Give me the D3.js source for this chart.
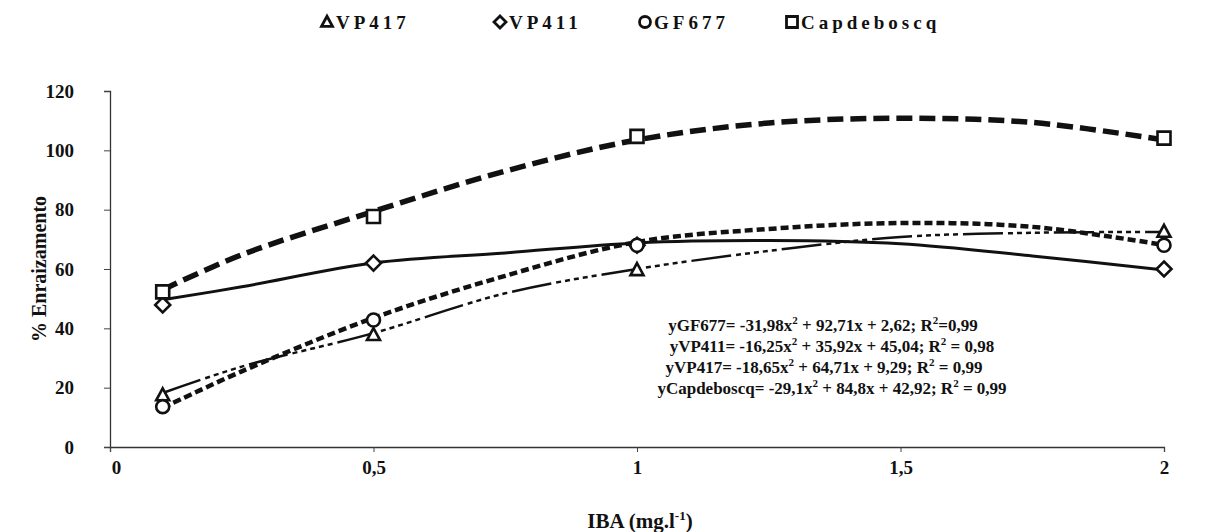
<!DOCTYPE html>
<html>
<head>
<meta charset="utf-8">
<script src="https://cdn.jsdelivr.net/npm/d3@7"></script>
<style>
  html, body { margin: 0; padding: 0; background: #fff; }
  svg { display: block; }
  text { font-family: "Liberation Serif", "Times New Roman", serif; font-weight: bold; fill: #111; }
</style>
</head>
<body>
<svg id="chart" width="1209" height="532"></svg>
<script>
// IBA doses (mg/l) where rooting was measured
const doses = [0.1, 0.5, 1, 2];

// Rooting percentage per rootstock
const vp417 = [17.5, 37.8, 59.7, 72.6];
const vp411 = [47.9, 62.0, 68.0, 60.0];
const gf677 = [13.6, 42.8, 68.0, 68.0];
const capdeboscq = [52.3, 77.7, 104.7, 104.1];

// Polynomial trend curves, sampled along the dose range
const trendDoses = [0.1, 0.25, 0.5, 0.75, 1, 1.25, 1.5, 1.75, 2];
const vp417Trend = [18.2, 27.1, 38.4, 51.8, 60.0, 66.1, 70.8, 72.2, 72.5];
const vp411Trend = [49.6, 54.0, 62.0, 65.4, 68.8, 69.6, 68.5, 64.4, 59.7];
const gf677Trend = [13.2, 25.5, 43.5, 57.7, 69.1, 73.5, 75.5, 74.2, 68.1];
const capTrend = [53.0, 64.8, 79.4, 93.0, 103.5, 109.2, 110.8, 109.4, 103.5];

// Axis ticks
const xTicks = [0, 0.5, 1, 1.5, 2];
const xTickLabels = ["0", "0,5", "1", "1,5", "2"];
const yTicks = [0, 20, 40, 60, 80, 100, 120];

// Regression equations (text pieces around the superscript 2s)
const equations = [
  { lhs: "yGF677= -31,98x", rhs: " + 92,71x + 2,62; R", r2: "=0,99", cx: 823 },
  { lhs: "yVP411= -16,25x", rhs: " + 35,92x + 45,04; R", r2: " = 0,98", cx: 832 },
  { lhs: "yVP417= -18,65x", rhs: " + 64,71x + 9,29; R", r2: " = 0,99", cx: 824 },
  { lhs: "yCapdeboscq= -29,1x", rhs: " + 84,8x + 42,92; R", r2: " = 0,99", cx: 832 }
];

const series = [
  { name: "VP417", values: vp417, trend: vp417Trend, shape: "triangle",
    dash: "40,5,5,4,5,4,5,4,5,4,5,5", width: 2.5 },
  { name: "VP411", values: vp411, trend: vp411Trend, shape: "diamond",
    dash: null, width: 3 },
  { name: "GF677", values: gf677, trend: gf677Trend, shape: "circle",
    dash: "8,4", width: 4.5 },
  { name: "Capdeboscq", values: capdeboscq, trend: capTrend, shape: "square",
    dash: "16,7", width: 5.5 }
];

const svg = d3.select("#chart");
const x = d3.scaleLinear().domain([0, 2]).range([110, 1164]);
const y = d3.scaleLinear().domain([0, 120]).range([447, 91]);

// Axes
const yAxis = svg.append("g").attr("transform", `translate(${x(0)},0)`)
  .call(d3.axisLeft(y).tickValues(yTicks).tickSize(6).tickPadding(30).tickFormat(d3.format("d")));
const xAxis = svg.append("g").attr("transform", `translate(0,${y(0)})`)
  .call(d3.axisBottom(x).tickValues(xTicks).tickSize(5).tickPadding(9)
    .tickFormat((d, i) => xTickLabels[i]));
[yAxis, xAxis].forEach(g => {
  g.select(".domain").attr("stroke", "#333").attr("stroke-width", 1.3);
  g.selectAll(".tick line").attr("stroke", "#444").attr("stroke-width", 1);
  g.selectAll(".tick text").style("font-size", "19px").attr("fill", "#111")
    .style("font-family", "'Liberation Serif', serif").style("font-weight", "bold");
});
xAxis.select(".tick text").attr("dx", 6);

// Axis titles
svg.append("text")
  .attr("transform", `translate(46,${(y(0) + y(120)) / 2}) rotate(-90)`)
  .attr("text-anchor", "middle").style("font-size", "20px")
  .text("% Enraizamento");

const xTitle = svg.append("text").attr("x", 640).attr("y", 528)
  .attr("text-anchor", "middle").style("font-size", "21px");
xTitle.append("tspan").text("IBA (mg.l");
xTitle.append("tspan").attr("dy", -8).style("font-size", "13px").text("-1");
xTitle.append("tspan").attr("dy", 8).text(")");

// Trend curves
const line = d3.line()
  .x((d, i) => x(trendDoses[i]))
  .y(d => y(d))
  .curve(d3.curveCatmullRom.alpha(0.5));

series.forEach(s => {
  svg.append("path")
    .attr("d", line(s.trend))
    .attr("fill", "none")
    .attr("stroke", "#111")
    .attr("stroke-width", s.width)
    .attr("stroke-dasharray", s.dash);
});

// Marker shapes
function marker(g, shape, size) {
  const h = size / 2;
  if (shape === "circle") {
    return g.append("circle").attr("r", h);
  }
  let p;
  if (shape === "square") p = `M${-h},${-h}H${h}V${h}H${-h}Z`;
  if (shape === "diamond") p = `M0,${-h}L${h},0L0,${h}L${-h},0Z`;
  if (shape === "triangle") p = `M0,${-h * 1.05}L${h},${h * 0.8}L${-h},${h * 0.8}Z`;
  return g.append("path").attr("d", p);
}

series.forEach(s => {
  s.values.forEach((v, i) => {
    const g = svg.append("g").attr("transform", `translate(${x(doses[i])},${y(v)})`);
    marker(g, s.shape, s.shape === "diamond" ? 15 : 13)
      .attr("fill", "#fff").attr("stroke", "#111").attr("stroke-width", 2.6);
  });
});

// Legend
const legendX = [327, 500, 645, 792];
series.forEach((s, i) => {
  const g = svg.append("g").attr("transform", `translate(${legendX[i]},22)`);
  marker(g, s.shape, s.shape === "diamond" ? 12 : 11)
    .attr("fill", "#fff").attr("stroke", "#111").attr("stroke-width", 2.8);
  svg.append("text").attr("x", legendX[i] + 9).attr("y", 29)
    .style("font-size", "19px").style("letter-spacing", "4px")
    .text(s.name);
});

// Regression equations
equations.forEach((e, i) => {
  const t = svg.append("text")
    .attr("x", e.cx).attr("y", 331 + i * 21)
    .attr("text-anchor", "middle")
    .style("font-size", "17px");
  t.append("tspan").text(e.lhs);
  t.append("tspan").attr("dy", -7).style("font-size", "11px").text("2");
  t.append("tspan").attr("dy", 7).text(e.rhs);
  t.append("tspan").attr("dy", -7).style("font-size", "11px").text("2");
  t.append("tspan").attr("dy", 7).text(e.r2);
});
</script>
</body>
</html>
